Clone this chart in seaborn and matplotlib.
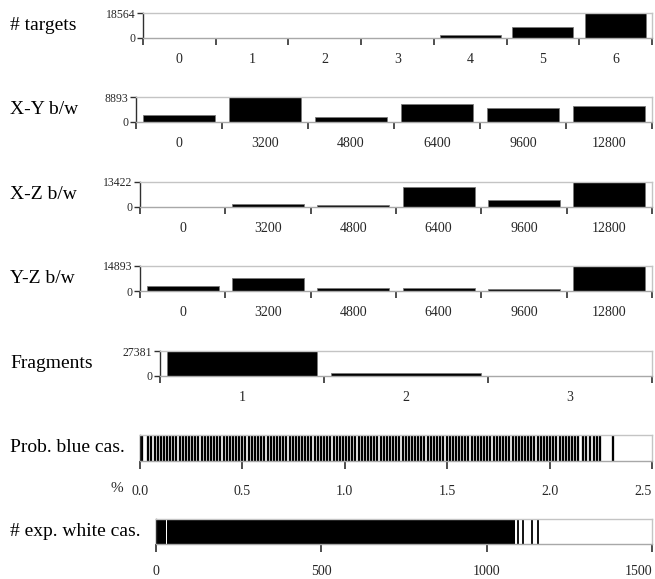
import matplotlib
matplotlib.use("Agg")
import matplotlib.pyplot as plt
import seaborn as sns
import pandas as pd

# ---- data -------------------------------------------------------------
target_cats = ["0", "1", "2", "3", "4", "5", "6"]
target_counts = [0, 0, 0, 0, 2400, 8170, 18564]

bw_cats = ["0", "3200", "4800", "6400", "9600", "12800"]
xy_bw = [2610, 8893, 1660, 6520, 4980, 5575]
xz_bw = [0, 1815, 1090, 10520, 3990, 13422]
yz_bw = [2780, 7745, 1790, 1790, 1190, 14893]

frag_cats = ["1", "2", "3"]
frag_counts = [27381, 3240, 0]

# probability of blue cascade (%), one value per record
blue_cas = [
    0.000, 0.012,
    0.040, 0.055, 0.071, 0.086, 0.101, 0.117, 0.132, 0.147, 0.163, 0.178,
    0.193, 0.209, 0.224, 0.239, 0.255, 0.270, 0.285, 0.301, 0.316, 0.331,
    0.347, 0.362, 0.377, 0.393, 0.408, 0.423, 0.439, 0.454, 0.469, 0.485,
    0.500, 0.515, 0.531, 0.546, 0.561, 0.577, 0.592, 0.607, 0.623, 0.638,
    0.653, 0.669, 0.684, 0.699, 0.715, 0.730, 0.745, 0.761, 0.776, 0.791,
    0.807, 0.822, 0.837, 0.853, 0.868, 0.883, 0.899, 0.914, 0.929, 0.945,
    0.960, 0.975, 0.991, 1.006, 1.021, 1.037, 1.052, 1.067, 1.083, 1.098,
    1.113, 1.129, 1.144, 1.159, 1.175, 1.190, 1.205, 1.221, 1.236, 1.251,
    1.267, 1.282, 1.297, 1.313, 1.328, 1.343, 1.359, 1.374, 1.389, 1.405,
    1.420, 1.435, 1.451, 1.466, 1.481, 1.497, 1.512, 1.527, 1.543, 1.558,
    1.573, 1.589, 1.604, 1.619, 1.635, 1.650, 1.665, 1.681, 1.696, 1.711,
    1.727, 1.742, 1.757, 1.773, 1.788, 1.803, 1.819, 1.834, 1.849, 1.865,
    1.880, 1.895, 1.911, 1.926, 1.941, 1.957, 1.972, 1.987, 2.003, 2.018,
    2.033, 2.049, 2.064, 2.079, 2.095, 2.110, 2.125, 2.141,
    2.165, 2.178, 2.196, 2.215, 2.232, 2.246,
    2.310,
]
blue_ticks = [0.0, 0.5, 1.0, 1.5, 2.0, 2.5]
blue_tick_labels = ["0.0", "0.5", "1.0", "1.5", "2.0", "2.5"]

# expected white cascades: contiguous covered ranges plus isolated values
white_cas_ranges = [(0, 30), (34, 1086)]
white_cas = [1095, 1110, 1137, 1155]
white_ticks = [0, 500, 1000, 1500]

# ---- styling ----------------------------------------------------------
sns.set_theme(style="white")
plt.rcParams["font.family"] = ["Liberation Serif", "DejaVu Serif"]

W, H = 655, 579
fig = plt.figure(figsize=(W / 100, H / 100), dpi=100)

FRAME = "#c4c4c4"
BASE = "#a8a8a8"
DARK = "#303030"
RIGHT = 652


def add_axes(left, top, bottom):
    return fig.add_axes([left / W, 1 - bottom / H, (RIGHT - left) / W, (bottom - top) / H])


def style_frame(ax, left_dark=True):
    for side in ("top", "right"):
        ax.spines[side].set_color(FRAME)
        ax.spines[side].set_linewidth(1.0)
    ax.spines["bottom"].set_color(BASE)
    ax.spines["bottom"].set_linewidth(1.0)
    ax.spines["left"].set_color(DARK if left_dark else FRAME)
    ax.spines["left"].set_linewidth(1.0)


def side_label(ax, text):
    pos = ax.get_position()
    fig.text(10 / W, pos.y0 + pos.height / 2, text, ha="left", va="center", fontsize=14, color="black")


def bar_panel(left, top, bottom, cats, vals, label, width=0.84):
    ax = add_axes(left, top, bottom)
    df = pd.DataFrame({"cat": cats, "val": vals})
    sns.barplot(data=df, x="cat", y="val", order=cats, color="black", width=width,
                edgecolor="#7a7a7a", linewidth=0.6, saturation=1, ax=ax)
    n = len(cats)
    ax.set_xlim(-0.5, n - 0.5)
    ax.set_ylim(0, max(vals))
    ax.set_xlabel("")
    ax.set_ylabel("")
    # boundary ticks below the axis, category names centred between them
    ax.set_xticks([i - 0.5 for i in range(n + 1)])
    ax.set_xticklabels([])
    ax.set_xticks(list(range(n)), minor=True)
    ax.set_xticklabels(cats, minor=True)
    ax.tick_params(axis="x", which="major", direction="out", length=5, width=1.2,
                   color=DARK, bottom=True)
    ax.tick_params(axis="x", which="minor", length=0, pad=11, labelsize=10)
    ax.set_yticks([0, max(vals)])
    ax.set_yticklabels(["0", str(max(vals))])
    ax.tick_params(axis="y", direction="out", length=4, width=1.0, color=DARK,
                   left=True, pad=1.5, labelsize=8.5)
    style_frame(ax)
    side_label(ax, label)
    return ax


bar_panel(143, 13, 38, target_cats, target_counts, "# targets")
bar_panel(136, 97, 122, bw_cats, xy_bw, "X-Y b/w")
bar_panel(140, 182, 207, bw_cats, xz_bw, "X-Z b/w")
bar_panel(140, 266, 291, bw_cats, yz_bw, "Y-Z b/w")
bar_panel(160, 351, 376, frag_cats, frag_counts, "Fragments", width=0.92)

# ---- probability of blue cascade strip -------------------------------
ax6 = add_axes(140, 435, 461)
sns.rugplot(x=blue_cas, height=1, color="black", linewidth=1.65, expand_margins=False, ax=ax6)
ax6.set_xlim(0, 2.5)
ax6.set_ylim(0, 1)
ax6.set_yticks([])
ax6.set_ylabel("")
ax6.set_xticks(blue_ticks)
ax6.set_xticklabels(blue_tick_labels)
ax6.get_xticklabels()[-1].set_ha("right")
ax6.tick_params(axis="x", direction="out", length=6, width=1.2, color=DARK,
                bottom=True, pad=11, labelsize=10)
style_frame(ax6)
side_label(ax6, "Prob. blue cas.")
fig.text(117 / W, 1 - 488 / H, "%", ha="center", va="center", fontsize=11)

# ---- expected white cascades strip -----------------------------------
ax7 = add_axes(156, 519, 544)
for lo, hi in white_cas_ranges:
    ax7.axvspan(lo, hi, color="black", lw=0)
sns.rugplot(x=white_cas, height=1, color="black", linewidth=1.3, expand_margins=False, ax=ax7)
ax7.set_xlim(0, 1500)
ax7.set_ylim(0, 1)
ax7.set_yticks([])
ax7.set_ylabel("")
ax7.set_xticks(white_ticks)
ax7.set_xticklabels([str(t) for t in white_ticks])
ax7.get_xticklabels()[-1].set_ha("right")
ax7.tick_params(axis="x", direction="out", length=6, width=1.2, color=DARK,
                bottom=True, pad=9, labelsize=10)
style_frame(ax7)
side_label(ax7, "# exp. white cas.")

fig.savefig("out.png", dpi=100)
